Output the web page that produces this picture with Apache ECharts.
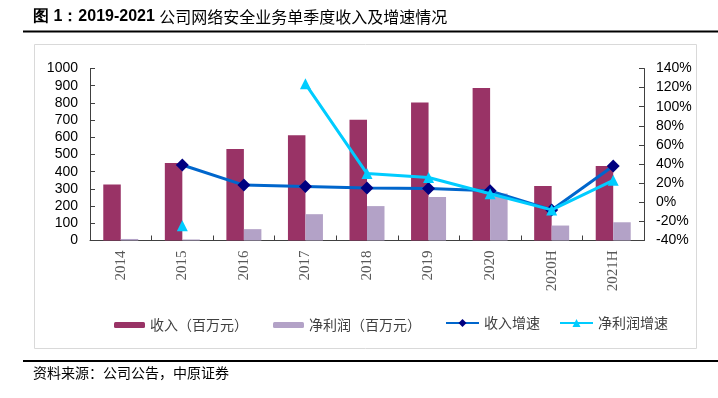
<!DOCTYPE html>
<html><head><meta charset="utf-8">
<script src="https://cdn.jsdelivr.net/npm/echarts@6/dist/echarts.min.js"></script>
<style>html,body{margin:0;padding:0;background:#fff;}#c{width:718px;height:398px;}</style>
</head><body><div id="c"></div>
<script>
const categories = ['2014','2015','2016','2017','2018','2019','2020','2020H','2021H'];
const revenue = [325, 450, 532, 612, 702, 802, 887, 317, 433];
const netProfit = [9, 6, 66, 153, 200, 253, 273, 87, 106];
const revenueGrowth = [null, 39, 18, 16.5, 15, 14.3, 12, -8, 38];
const profitGrowth = [null, -24.6, null, 124, 30, 26, 9, -8, 23];
const leftTicks = {min: 0, max: 1000, interval: 100};
const rightTicks = {min: -40, max: 140, interval: 20};
const names = ['收入（百万元）', '净利润（百万元）', '收入增速', '净利润增速'];

const cjk = '"Noto Sans CJK SC", sans-serif';
const chart = echarts.init(document.getElementById('c'), null, {renderer: 'canvas'});
const axisLineStyle = {show: true, lineStyle: {color: '#404040', width: 1}};
const legendBase = {orient: 'horizontal', textStyle: {fontSize: 14, color: '#404040', fontFamily: cjk}, selectedMode: false, itemGap: 0, padding: 0};
chart.setOption({
  animation: false,
  grid: {left: 90, right: 74, top: 68.5, bottom: 157.5},
  graphic: [
    {type: 'text', left: 33, top: 9, style: {rich: {b: {fontSize: 16, fontWeight: 'bold', fontFamily: 'Liberation Sans, Arial, sans-serif', fill: '#000'}, n: {fontSize: 16, fontFamily: cjk, fill: '#000'}}, text: '{b|图 1：2019-2021 }{n|公司网络安全业务单季度收入及增速情况}'}},
    {type: 'line', shape: {x1: 23, y1: 31.5, x2: 718, y2: 31.5}, style: {stroke: '#000', lineWidth: 2}},
    {type: 'rect', shape: {x: 34.5, y: 44.5, width: 662, height: 304}, style: {fill: 'none', stroke: '#d9d9d9', lineWidth: 1}, z: -1},
    {type: 'line', shape: {x1: 23, y1: 361, x2: 718, y2: 361}, style: {stroke: '#000', lineWidth: 2}},
    {type: 'text', left: 33, top: 366, style: {text: '资料来源：公司公告，中原证券', fontSize: 14, fontFamily: cjk, fill: '#000'}}
  ],
  legend: [
    Object.assign({}, legendBase, {left: 114, top: 318, itemWidth: 31, itemHeight: 6, data: [names[0]]}),
    Object.assign({}, legendBase, {left: 273, top: 318, itemWidth: 31, itemHeight: 6, data: [names[1]]}),
    Object.assign({}, legendBase, {left: 445, top: 316, itemWidth: 33, itemHeight: 10, data: [names[2]]}),
    Object.assign({}, legendBase, {left: 559, top: 316, itemWidth: 33, itemHeight: 10, data: [names[3]]})
  ],
  xAxis: {
    type: 'category', data: categories,
    axisLine: axisLineStyle,
    axisTick: {show: true, inside: true, length: 5, lineStyle: {color: '#404040'}},
    axisLabel: {rotate: 90, margin: 10, fontSize: 15, color: '#595959', fontFamily: '"Liberation Serif", serif'}
  },
  yAxis: [
    {type: 'value', position: 'left', min: leftTicks.min, max: leftTicks.max, interval: leftTicks.interval,
     axisLine: axisLineStyle, axisTick: {show: true, inside: true, length: 5, lineStyle: {color: '#404040'}},
     splitLine: {show: false},
     axisLabel: {margin: 12, fontSize: 14, color: '#000', formatter: function (v) { return String(v); }, fontFamily: '"Liberation Sans", Arial, sans-serif'}},
    {type: 'value', position: 'right', min: rightTicks.min, max: rightTicks.max, interval: rightTicks.interval,
     axisLine: axisLineStyle, axisTick: {show: true, inside: true, length: 5, lineStyle: {color: '#404040'}},
     splitLine: {show: false},
     axisLabel: {margin: 12, fontSize: 14, color: '#000', formatter: '{value}%', fontFamily: '"Liberation Sans", Arial, sans-serif'}}
  ],
  series: [
    {name: names[0], type: 'bar', yAxisIndex: 0, data: revenue, barWidth: 17.5, barGap: '0%', itemStyle: {color: '#993366'}},
    {name: names[1], type: 'bar', yAxisIndex: 0, data: netProfit, barWidth: 17.5, barGap: '0%', itemStyle: {color: '#B3A2C7'}},
    {name: names[2], type: 'line', yAxisIndex: 1, data: revenueGrowth, symbol: 'diamond', symbolSize: 13,
     lineStyle: {color: '#0066CC', width: 3}, itemStyle: {color: '#000080'}, connectNulls: false, z: 3},
    {name: names[3], type: 'line', yAxisIndex: 1, data: profitGrowth, symbol: 'triangle', symbolSize: 11,
     lineStyle: {color: '#00CCFF', width: 3}, itemStyle: {color: '#00CCFF'}, connectNulls: false, z: 4}
  ]
});
</script></body></html>
